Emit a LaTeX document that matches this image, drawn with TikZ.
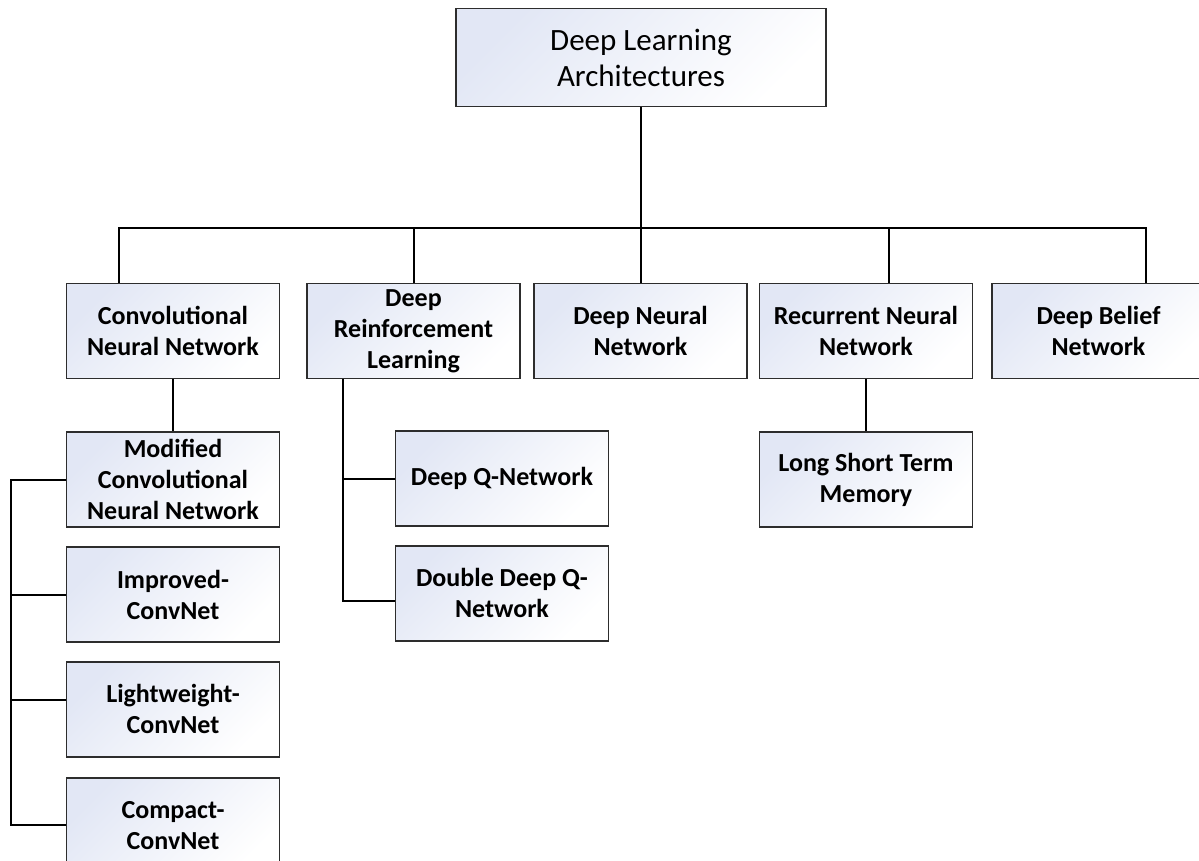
\documentclass[tikz,border=0pt]{standalone}
\usepackage{fontspec}
\setmainfont{Carlito}
\usetikzlibrary{positioning}
\usetikzlibrary{calc}

\definecolor{boxtint}{RGB}{226,231,245}
\definecolor{boxline}{RGB}{45,45,45}

\begin{document}
\begin{tikzpicture}[x=1pt, y=1pt,
				arch/.style={draw=boxline, line width=1.8pt, rectangle, inner sep=2pt, top color=boxtint, bottom color=white, shading angle=45, minimum width=213pt, minimum height=95pt, font=\fontsize{26}{31}\selectfont\bfseries},
				root/.style={arch, minimum width=370pt, minimum height=98pt, font=\fontsize{31}{36}\selectfont},
				link/.style={draw, line width=2pt},
				every text node part/.style={align=center}]
				\useasboundingbox (0,0) rectangle (1199,-861);
				\node[root](dla) at (641,-57.5) {Deep Learning\\Architectures};
				\coordinate (bus) at (641,-228);
				
				\node[arch](cnn) at (173,-331) {Convolutional\\Neural Network};
				\node[arch](drl) at (413.5,-331) {Deep\\Reinforcement\\Learning};
				\node[arch](dnn) at (640.5,-331) {Deep Neural\\Network};
				\node[arch](rnn) at (866,-331) {Recurrent Neural\\Network};
				\node[arch](dbn) at (1098.5,-331) {Deep Belief\\Network};
				
				\node[arch, below=52pt of cnn](mcnn) {Modified\\Convolutional\\Neural Network};
				\node[arch, below=18pt of mcnn](impr) {Improved-\\ConvNet};
				\node[arch, below=18pt of impr](light) {Lightweight-\\ConvNet};
				\node[arch, below=19pt of light](cmpt) {Compact-\\ConvNet};
				
				\node[arch](dqn) at (502,-478.5) {Deep Q-Network};
				\node[arch, below=18pt of dqn](ddqn) {Double Deep Q-\\Network};
				
				\node[arch, below=52pt of rnn](lstm) {Long Short Term\\Memory};
				
				\draw[link] (dla) -- (bus);
				\draw[link] ($(cnn.north west)!0.25!(cnn.north east)$) |- (bus);
				\draw[link] (drl.north) |- (bus);
				\draw[link] (dnn.north) |- (bus);
				\draw[link] ($(rnn.north west)!0.605!(rnn.north east)$) |- (bus);
				\draw[link] ($(dbn.north west)!0.72!(dbn.north east)$) |- (bus);
				
				% CNN branch
				\draw[link] (cnn) -- (mcnn);
				\draw[link] (mcnn.west) -- ++(-55,0) coordinate (cbus) |- (cmpt.west);
				\draw[link] (impr.west) -- (impr.west -| cbus);
				\draw[link] ([yshift=9.5pt]light.west) -- ([yshift=9.5pt]light.west -| cbus);
				
				% DRL branch
				\coordinate (rlbus) at ([xshift=-70.5pt]drl.south);
				\draw[link] (rlbus) |- ([yshift=-7.5pt]ddqn.west);
				\draw[link] (dqn.west) -- (dqn.west -| rlbus);
				
				\draw[link] (rnn) -- (lstm);
			\end{tikzpicture}
\end{document}
